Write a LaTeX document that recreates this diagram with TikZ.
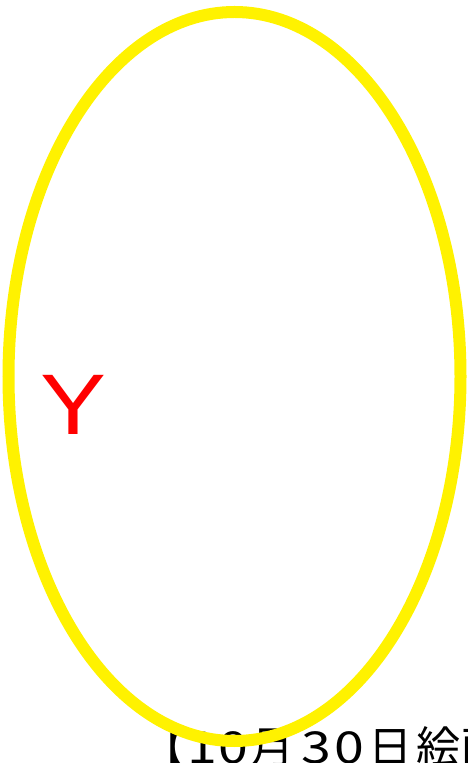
\documentclass[tikz,border=0pt]{standalone}
\usepackage{fontspec}
\setmainfont{Liberation Sans}
\newfontfamily\cjk{Noto Sans CJK JP}
\newfontfamily\cjkwide[FakeStretch=1.22]{Noto Sans CJK JP}
\begin{document}
\begin{tikzpicture}[x=1pt,y=1pt,
  cj/.style={anchor=base,inner sep=0pt,font=\cjk\fontsize{44}{44}\selectfont},
  dg/.style={anchor=base,inner sep=0pt,font=\cjkwide\fontsize{44}{44}\selectfont}]
\useasboundingbox (0,0) rectangle (467,763);
\clip (0,0) rectangle (467,763);
\node[cj] (t0) at (163.5,0) {【};
\node[dg] (t1) at (202,0) {1};
\node[dg] (t2) at (233.5,0) {0};
\node[cj] (t3) at (272,0) {月};
\node[dg] (t4) at (316.5,0) {3};
\node[dg] (t5) at (349.5,0) {0};
\node[cj] (t6) at (390,0) {日};
\node[cj] (t7) at (438.5,0) {絵};
\node[cj] (t8) at (483,0) {画};
\node[cj] (t9) at (527,0) {】};
\node[anchor=base west,inner sep=0pt,text=red,xscale=1.15,transform shape,font=\fontsize{86}{86}\selectfont] (y) at (40,328) {Y};
\draw[yellow,line width=12pt] (234.5,386.5) ellipse [x radius=226,y radius=364.5];
\end{tikzpicture}
\end{document}
